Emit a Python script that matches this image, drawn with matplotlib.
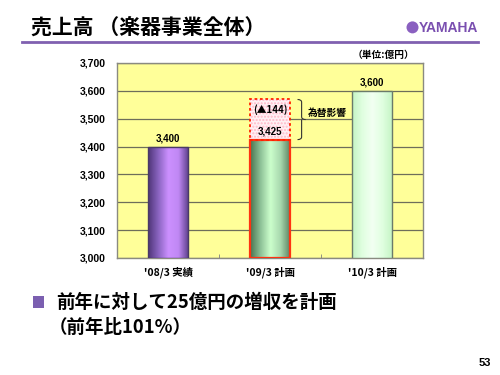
import matplotlib
matplotlib.use("Agg")
import matplotlib.pyplot as plt
import numpy as np
from matplotlib.colors import LinearSegmentedColormap
from matplotlib.path import Path
from matplotlib.patches import PathPatch, Rectangle, Ellipse

plt.rcParams['font.family'] = ['Noto Sans CJK JP', 'DejaVu Sans']

categories = ["'08/3 実績", "'09/3 計画", "'10/3 計画"]
values = [3400, 3425, 3600]
value_labels = ["3,400", "3,425", "3,600"]
fx_effect = 144
fx_label = "(▲144)"
fx_text = "為替影響"
yticks = [3000, 3100, 3200, 3300, 3400, 3500, 3600, 3700]
ytick_labels = ["3,000", "3,100", "3,200", "3,300", "3,400", "3,500", "3,600", "3,700"]
title = "売上高 （楽器事業全体）"
unit = "（単位:億円）"
bullet_line1 = "前年に対して25億円の増収を計画"
bullet_line2 = "（前年比101%）"
page = "53"

fig = plt.figure(figsize=(5, 3.75), dpi=100)
fig.patch.set_facecolor('white')
ax = fig.add_axes([0.234, 0.312, 0.612, 0.52])
ax.set_facecolor('#ffff99')

x = np.arange(len(categories))
bw = 0.4
bars = ax.bar(x, [v - 3000 for v in values], bottom=3000, width=bw, zorder=3,
              edgecolor=['#4a3a66', '#ff3311', '#6a7a6a'], linewidth=[1.0, 1.6, 1.0])

grads = [
    ['#4e3578', '#8a64c0', '#cc90ff', '#c088f4', '#5c3f8a'],
    ['#4a7450', '#8cc096', '#ccffcc', '#a8d8ae', '#587f5e'],
    ['#c4f4c4', '#e0ffe0', '#f2fff2', '#e0ffe0', '#c4f4c4'],
]
for b, g in zip(bars, grads):
    cmap = LinearSegmentedColormap.from_list('g', g)
    bx, by = b.get_x(), b.get_y()
    w, h = b.get_width(), b.get_height()
    im = ax.imshow(np.linspace(0, 1, 100)[None, :], cmap=cmap, aspect='auto',
                   extent=[bx, bx + w, by, by + h], zorder=3.5, interpolation='bicubic')
    im.set_clip_path(b)
    b.set_facecolor('none')
    b.set_zorder(4)

# FX-effect box on bar 2
b2 = bars[1]
top2 = values[1] + fx_effect
ax.add_patch(Rectangle((b2.get_x(), values[1]), bw, fx_effect, facecolor='#fff0f4',
                       edgecolor='#ffb8c8', hatch='.....', linewidth=0, zorder=3))
ax.add_patch(Rectangle((b2.get_x(), values[1]), bw, fx_effect, facecolor='none',
                       edgecolor='#ff2200', linestyle=(0, (1.5, 1.5)), linewidth=1.3, zorder=5))

ax.set_xlim(-0.5, 2.5)
ax.set_ylim(3000, 3700)
ax.set_yticks(yticks)
ax.set_yticklabels(ytick_labels, fontsize=7.5, fontweight='bold', family='Liberation Sans')
ax.set_xticks(x)
ax.set_xticklabels(categories, fontsize=7.5, fontweight='bold')
ax.set_xticks([0.5, 1.5], minor=True)
ax.tick_params(axis='x', which='major', length=0, pad=6)
ax.tick_params(axis='x', which='minor', length=3, direction='in', color='#808080')
ax.tick_params(axis='y', length=0, pad=8)
ax.yaxis.grid(True, color='#6e6e5a', linewidth=0.9, zorder=1)
ax.set_axisbelow(True)
for s in ax.spines.values():
    s.set_color('#8a8a80')
    s.set_linewidth(1.0)

lbl_kw = dict(ha='center', fontsize=7, fontweight='bold', family='Liberation Sans', zorder=6)
ax.text(x[0], values[0] + 12, value_labels[0], va='bottom', **lbl_kw)
ax.text(x[2], values[2] + 12, value_labels[2], va='bottom', **lbl_kw)
ax.text(x[1], values[1] + 12, value_labels[1], va='bottom', **lbl_kw)
ax.text(x[1], values[1] + fx_effect - 35, fx_label, ha='center', va='center',
        fontsize=7, fontweight='bold', zorder=6)

# brace
bx0 = x[1] + bw / 2 + 0.07
ylo, yhi = values[1], top2
ym = (ylo + yhi) / 2
d = 0.04
verts = [(bx0, yhi), (bx0 + d, yhi), (bx0 + d, yhi - 10), (bx0 + d, ym + 10),
         (bx0 + d, ym), (bx0 + 2 * d, ym),
         (bx0 + d, ym), (bx0 + d, ym - 10),
         (bx0 + d, ylo + 10), (bx0 + d, ylo), (bx0, ylo)]
codes = [Path.MOVETO, Path.CURVE3, Path.CURVE3, Path.LINETO, Path.CURVE3, Path.CURVE3,
         Path.MOVETO, Path.CURVE3, Path.LINETO, Path.CURVE3, Path.CURVE3]
ax.add_patch(PathPatch(Path(verts, codes), facecolor='none', edgecolor='#333333',
                       linewidth=0.8, zorder=6, clip_on=False))
ax.text(bx0 + 2 * d + 0.02, ym + 25, fx_text, ha='left', va='center', fontsize=7,
        fontweight='bold', zorder=6)

# Title and decorations
fig.text(0.062, 0.925, title, ha='left', va='center', fontsize=15, fontweight='bold')
fig.add_artist(plt.Line2D([0.044, 0.956], [0.888, 0.888], color='#8060b0', linewidth=2,
                          transform=fig.transFigure))
fig.add_artist(Ellipse((0.825, 0.927), 0.024, 0.032, transform=fig.transFigure,
                       facecolor='#8a60c0', edgecolor='none'))
fig.text(0.956, 0.925, "YAMAHA", ha='right', va='center', fontsize=10, fontweight='bold',
         color='#7a4fb0', family='Liberation Sans')
fig.text(0.828, 0.853, unit, ha='right', va='center', fontsize=7, fontweight='bold')

fig.add_artist(Rectangle((0.066, 0.18), 0.022, 0.03, transform=fig.transFigure,
                         facecolor='#7b5fb0', edgecolor='none'))
fig.text(0.112, 0.193, bullet_line1, ha='left', va='center', fontsize=13.3, fontweight='bold')
fig.text(0.098, 0.127, bullet_line2, ha='left', va='center', fontsize=13.3, fontweight='bold')
fig.text(0.982, 0.033, page, ha='right', va='center', fontsize=8, fontweight='bold',
         family='Liberation Sans')

fig.savefig('out.png', dpi=100)
